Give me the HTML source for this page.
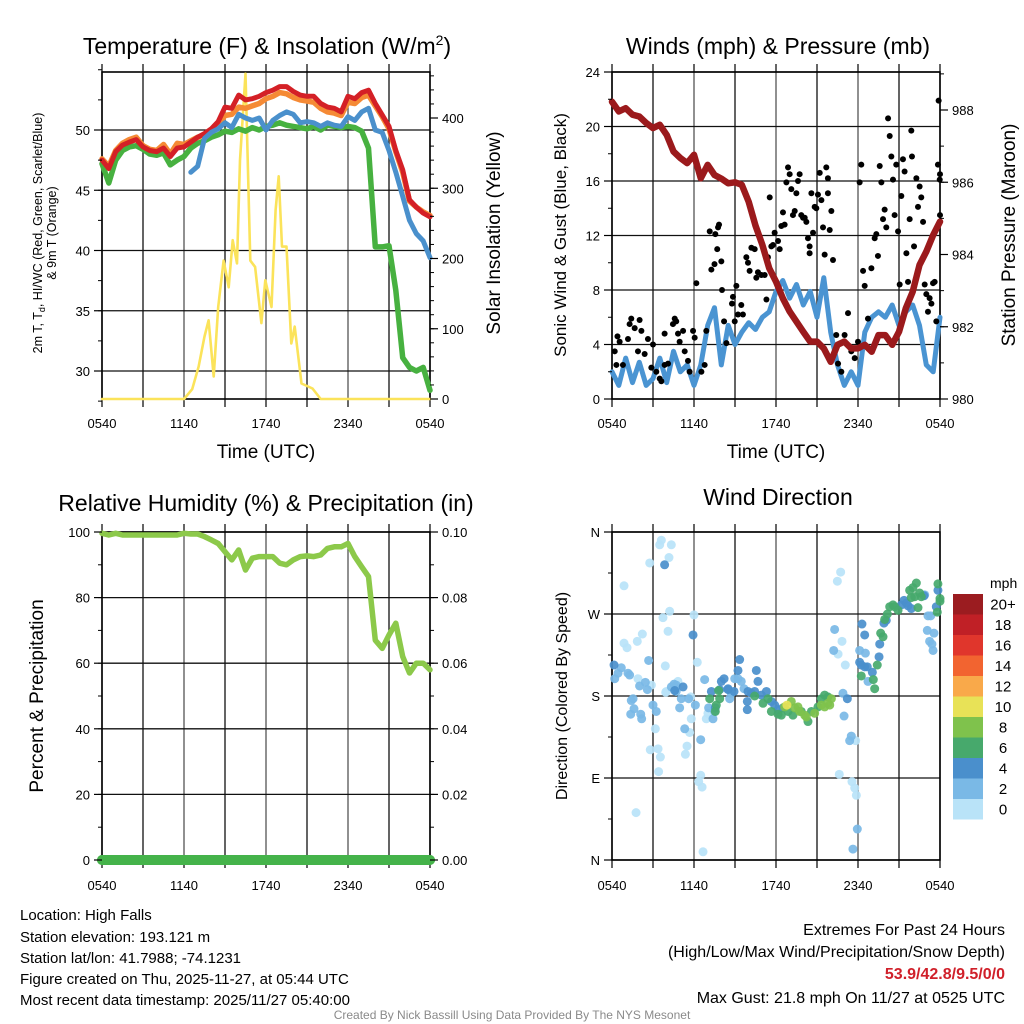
<!DOCTYPE html>
<html><head><meta charset="utf-8">
<style>
html,body{margin:0;padding:0;background:#fff;}
svg{display:block;font-family:"Liberation Sans",Arial,sans-serif;}
</style></head>
<body>
<svg id="chart" width="1024" height="1024" viewBox="0 0 1024 1024" xmlns="http://www.w3.org/2000/svg">
<rect width="1024" height="1024" fill="#fff"/>
<g id="layer"></g>
<text x="267" y="54" font-size="23" text-anchor="middle">Temperature (F) &amp; Insolation (W/m<tspan dy="-9" font-size="14">2</tspan><tspan dy="9">)</tspan></text>
<text x="778" y="54" font-size="23" text-anchor="middle">Winds (mph) &amp; Pressure (mb)</text>
<text x="266" y="511" font-size="23" text-anchor="middle">Relative Humidity (%) &amp; Precipitation (in)</text>
<text x="778" y="505" font-size="23" text-anchor="middle">Wind Direction</text>
<text x="266" y="458" font-size="19" text-anchor="middle">Time (UTC)</text>
<text x="776" y="458" font-size="19" text-anchor="middle">Time (UTC)</text>
<text transform="translate(42,233) rotate(-90)" font-size="12.5" text-anchor="middle">2m T, T<tspan dy="3" font-size="9">d</tspan><tspan dy="-3">, HI/WC (Red, Green, Scarlet/Blue)</tspan></text>
<text transform="translate(56,233) rotate(-90)" font-size="12.5" text-anchor="middle">&amp; 9m T (Orange)</text>
<text transform="translate(500,233) rotate(-90)" font-size="19" text-anchor="middle">Solar Insolation (Yellow)</text>
<text transform="translate(566,235) rotate(-90)" font-size="17" text-anchor="middle">Sonic Wind &amp; Gust (Blue, Black)</text>
<text transform="translate(1015,235) rotate(-90)" font-size="19" text-anchor="middle">Station Pressure (Maroon)</text>
<text transform="translate(43,696) rotate(-90)" font-size="19" text-anchor="middle">Percent &amp; Precipitation</text>
<text transform="translate(567,696) rotate(-90)" font-size="16" text-anchor="middle">Direction (Colored By Speed)</text>
<text x="990" y="588" font-size="14">mph</text>
<g font-size="15">
<text x="20" y="920">Location: High Falls</text>
<text x="20" y="942">Station elevation: 193.121 m</text>
<text x="20" y="963">Station lat/lon: 41.7988; -74.1231</text>
<text x="20" y="984">Figure created on Thu, 2025-11-27, at 05:44 UTC</text>
<text x="20" y="1005">Most recent data timestamp: 2025/11/27 05:40:00</text>
</g>
<g font-size="16" text-anchor="end">
<text x="1005" y="935">Extremes For Past 24 Hours</text>
<text x="1005" y="957">(High/Low/Max Wind/Precipitation/Snow Depth)</text>
<text x="1005" y="979" fill="#d0202a" font-weight="bold">53.9/42.8/9.5/0/0</text>
<text x="1005" y="1003">Max Gust: 21.8 mph On 11/27 at 0525 UTC</text>
</g>
<text x="512" y="1019" font-size="12" fill="#8a8a8a" text-anchor="middle">Created By Nick Bassill Using Data Provided By The NYS Mesonet</text>
</svg>
<script>
// ---------- data (hours since 0540 UTC) ----------
var halfHours = [0,0.5,1,1.5,2,2.5,3,3.5,4,4.5,5,5.5,6,6.5,7,7.5,8,8.5,9,9.5,10,10.5,11,11.5,12,12.5,13,13.5,14,14.5,15,15.5,16,16.5,17,17.5,18,18.5,19,19.5,20,20.5,21,21.5,22,22.5,23,23.5,24];
var xTickLabels = ["0540","1140","1740","2340","0540"];
var tempRed = [47.5,46.8,48.2,48.75,49.0,49.2,48.6,48.3,48.2,48.5,47.8,48.5,48.6,49.0,49.4,49.7,50.1,50.7,51.9,51.8,52.9,52.5,52.6,52.8,53.1,53.3,53.6,53.6,53.2,52.9,52.8,52.8,52.2,51.9,51.8,51.5,52.8,52.6,53.1,53.3,52.2,51.25,50.3,48.3,46.7,44.2,43.6,43.1,42.8];
var tempOrange = [47.6,47.0,48.3,48.9,49.2,49.4,48.7,48.4,48.3,48.8,48.0,48.9,48.8,49.1,49.4,49.6,49.9,50.4,51.2,51.3,51.9,51.8,52.0,52.2,52.6,52.8,53.1,53.0,52.7,52.5,52.4,52.3,51.8,51.5,51.4,51.2,52.3,52.2,52.7,52.9,52.0,51.1,50.1,48.2,46.5,44.1,43.6,43.2,42.9];
var tempGreen = [47.2,45.6,47.5,48.3,48.6,48.7,48.4,48.0,47.9,48.1,47.1,47.5,47.8,48.5,48.9,49.1,49.4,49.6,49.9,49.8,50.1,49.9,50.2,50.0,50.3,50.4,50.6,50.4,50.3,50.2,50.1,50.3,50.0,50.4,50.3,50.2,50.3,50.2,49.9,48.5,40.3,40.3,40.4,36.7,31.1,30.3,30.0,30.3,28.4];
var tempBlue = [null,null,null,null,null,null,null,null,null,null,null,null,null,46.5,47.0,49.3,49.8,50.1,50.6,50.2,51.3,51.0,50.8,51.0,50.0,50.8,51.2,51.5,51.3,50.6,50.7,50.6,50.3,50.6,50.4,50.3,51.1,50.8,51.5,51.8,50.0,49.8,48.3,46.5,44.5,42.5,41.4,40.8,39.4];
var solarT = [0,6.0,6.6,7.07,7.5,7.8,8.17,8.5,8.9,9.27,9.56,9.88,10.1,10.5,10.85,11.2,11.66,11.95,12.4,12.7,12.93,13.17,13.5,13.85,14.1,14.6,15.4,16.0,24];
var solarV = [0,0,14,46,89,112,32,131,197,159,226,193,340,463,197,188,108,169,131,269,317,217,217,79,103,22,15,0,0];
var tempTicks = [30,35,40,45,50];
var solarTicks = [0,100,200,300,400];

var pressure = [988.23,987.96,988.05,987.87,987.82,987.64,987.5,987.59,987.31,986.85,986.67,986.53,986.76,986.11,986.48,986.2,986.1,985.97,986.0,985.93,985.46,984.8,984.27,983.62,983.25,982.79,982.42,982.14,981.86,981.59,981.59,981.4,981.03,981.5,981.59,981.4,981.4,981.5,981.31,981.77,981.77,981.5,981.86,982.51,982.97,983.71,984.08,984.54,984.91];
var sonicWind = [2.0,1.0,3.0,1.2,2.7,1.0,1.5,3.0,1.2,3.5,2.0,2.5,1.0,2.5,5.4,6.7,2.5,5.4,4.0,4.9,5.6,5.1,6.0,6.4,7.9,8.7,7.4,8.4,6.9,7.9,6.0,8.9,4.9,2.5,1.0,2.0,1.0,4.9,6.0,6.4,6.0,6.9,5.4,6.4,6.9,5.4,2.5,2.0,6.0];
var gustT = [0.2,0.4,0.56,0.32,0.8,1.17,1.29,1.41,1.66,2.02,2.15,1.9,2.39,2.63,3.0,2.88,3.24,3.49,3.61,3.85,3.85,4.1,4.46,4.59,4.7,4.83,4.95,5.2,5.32,5.56,5.68,5.93,6.05,6.17,6.54,6.78,6.9,7.15,7.27,7.5,7.56,7.76,7.83,7.7,8.0,8.05,8.2,8.37,8.78,8.85,8.98,9.1,9.22,9.46,9.58,9.83,9.95,10.07,10.2,10.44,10.56,10.68,10.93,11.17,11.3,11.54,11.41,11.66,11.78,11.9,12.15,12.27,12.39,12.51,12.63,12.76,12.88,13.0,13.12,13.24,13.37,13.49,13.61,13.73,13.85,13.98,14.1,14.22,14.34,14.46,14.46,14.59,14.71,14.83,14.95,15.07,15.2,15.32,15.44,15.56,15.68,15.8,15.8,15.93,16.05,16.17,16.41,16.54,16.78,17.02,17.27,17.51,17.76,18.0,18.12,18.24,18.37,18.49,18.73,18.98,19.22,19.34,19.46,19.59,19.71,19.83,19.95,20.07,20.2,20.32,20.44,20.56,20.68,20.8,20.93,21.05,21.17,21.29,21.41,21.54,21.66,21.78,21.9,21.95,22.1,22.27,22.39,22.51,22.63,22.76,22.88,23.0,23.12,23.24,23.37,23.49,23.61,23.73,23.85,23.9,23.98,24.0,24.0];
var gustV = [3.5,4.6,4.2,2.5,2.5,4.4,5.5,5.9,5.2,5.8,5.0,3.5,3.3,4.4,4.0,2.3,2.0,1.5,1.3,2.5,4.8,2.6,5.5,5.9,5.7,4.8,4.2,5.0,3.5,2.8,2.0,5.0,4.5,8.5,2.0,2.5,5.0,12.3,9.5,9.9,12.1,12.6,12.8,11.0,10.1,8.0,5.7,4.1,7.0,7.5,5.7,8.3,6.2,6.9,6.2,10.4,10.0,9.4,11.1,11.0,8.9,9.3,9.1,9.1,7.3,14.8,10.4,11.2,11.3,12.2,11.6,11.0,12.7,13.7,12.8,15.9,17.0,16.5,15.4,13.5,13.8,15.1,16.0,16.5,13.5,13.3,13.3,13.0,11.8,11.2,10.7,15.1,12.2,14.1,14.0,15.0,16.6,14.6,12.6,10.6,17.0,16.2,15.1,12.4,13.8,10.2,4.7,2.6,2.0,4.7,6.3,3.5,3.0,4.2,15.9,17.2,9.4,8.3,5.9,9.6,11.8,12.1,10.5,17.1,15.9,13.2,13.9,12.6,20.6,19.3,17.8,16.1,13.5,17.2,12.3,8.4,14.9,17.6,16.7,10.7,8.6,13.2,19.7,17.8,11.2,16.2,14.1,15.6,14.8,13.0,8.4,7.7,6.4,7.4,7.0,8.5,8.6,5.7,17.2,21.9,16.1,13.5,16.5];
var windTicks = [0,4,8,12,16,20,24];
var pressureTicks = [980,982,984,986,988];

var humidity = [99.6,99.1,99.6,99.1,99.1,99.1,99.1,99.1,99.1,99.1,99.1,99.1,99.6,99.4,99.4,98.6,97.6,96.5,94.0,91.5,94.5,88.4,92.0,92.5,92.5,92.5,90.5,90.0,91.5,92.5,92.7,92.5,93.0,95.0,95.5,95.5,96.5,92.5,89.4,86.4,67.0,64.5,68.6,72.2,62.0,57.0,60.0,60.0,58.0];
var precip = [0,0,0,0,0,0,0,0,0,0,0,0,0,0,0,0,0,0,0,0,0,0,0,0,0,0,0,0,0,0,0,0,0,0,0,0,0,0,0,0,0,0,0,0,0,0,0,0,0];
var humidityTicks = [0,20,40,60,80,100];
var precipTickLabels = ["0.00","0.02","0.04","0.06","0.08","0.10"];
var precipTicks = [0,0.02,0.04,0.06,0.08,0.10];

var dirT = [3.61,3.49,4.34,4.17,2.76,0.88,3.73,4.22,6.0,4.1,2.22,0.88,1.1,1.85,3.9,1.9,2.88,3.98,4.83,6.24,5.8,6.9,7.02,5.68,5.49,5.37,2.8,3.37,3.54,3.41,3.17,6.49,6.34,6.59,1.76,6.66,16.73,16.49,16.83,16.54,17.07,16.63,17.56,17.76,17.88,17.83,5.76,3.93,
0.2,0.44,0.68,1.17,1.29,2.02,2.44,2.59,1.54,1.41,1.61,1.37,2.1,2.17,3.0,3.24,4.95,5.07,5.32,5.61,6.1,6.49,6.78,7.07,7.39,7.51,9.46,9.22,8.98,9.66,8.61,8.73,16.29,16.22,16.9,16.98,17.51,17.39,17.63,17.95,18.12,18.54,18.73,23.07,23.56,23.24,23.41,23.49,23.12,23.32,22.88,4.7,4.34,4.54,2.68,4.7,
0.15,3.85,5.93,4.59,5.2,7.27,8.0,8.2,7.88,8.49,8.93,9.22,9.34,9.95,10.2,10.44,10.56,10.68,9.9,9.9,10.93,11.3,11.66,11.9,12.15,12.51,7.56,17.22,18.29,18.49,18.12,18.24,18.49,18.68,19.05,19.54,19.59,19.9,20.07,21.17,21.37,21.54,21.66,21.9,22.83,23.85,23.73,8.49,
7.15,7.63,7.56,7.88,7.8,10.44,11.05,11.41,11.66,12.15,12.39,12.88,13.24,13.85,14.34,14.59,15.07,15.32,15.56,15.8,18.24,19.12,19.22,19.41,19.66,19.83,19.95,20.15,20.32,20.56,20.68,20.93,21.78,22.02,22.27,22.51,22.63,22.39,23.85,24.0,24.0,23.8,21.9,22.15,
12.63,13.12,13.37,13.61,13.73,14.1,14.22,14.83,15.32,15.56,15.8,16.05,15.93,
12.8];
var dirV = [351,346,346,332,326,301,266,273,269,251,248,238,233,240,213,199,192,185,196,217,155,155,161,140,125,116,121,122,113,97,144,93,86,80,52,9,316,306,240,226,214,94,86,79,71,131,179,184,
199,205,211,205,203,191,195,187,177,175,166,160,160,155,170,163,167,177,144,177,170,132,198,167,155,163,196,199,199,188,177,183,253,230,183,158,136,131,12,34,230,227,196,252,249,240,237,230,268,268,291,192,190,193,219,185,
214,324,247,186,190,185,196,199,187,187,185,208,220,185,183,185,208,196,174,165,181,185,174,170,165,167,167,177,259,247,217,214,212,212,206,223,237,260,263,280,285,282,279,276,290,296,278,188,
177,170,163,177,186,180,172,177,163,160,159,163,159,163,152,163,168,177,181,179,202,198,188,214,249,245,264,270,278,280,278,274,296,299,304,293,289,277,303,287,284,272,288,289,
168,174,167,168,163,159,157,161,170,168,172,177,170,
170];
var dirS = [1,1,1,1,1,1,1,1,1,1,1,1,1,1,1,1,1,1,1,1,1,1,1,1,1,1,1,1,1,1,1,1,1,1,1,1,1,1,1,1,1,1,1,1,1,1,1,1,
3,3,3,3,3,3,3,3,3,3,3,3,3,3,3,3,3,3,3,3,3,3,3,3,3,3,3,3,3,3,3,3,3,3,3,3,3,3,3,3,3,3,3,3,3,3,3,3,3,3,3,3,3,3,3,3,
5,5,5,5,5,5,5,5,5,5,5,5,5,5,5,5,5,5,5,5,5,5,5,5,5,5,5,5,5,5,5,5,5,5,5,5,5,5,5,5,5,5,5,5,5,5,5,5,
7,7,7,7,7,7,7,7,7,7,7,7,7,7,7,7,7,7,7,7,7,7,7,7,7,7,7,7,7,7,7,7,7,7,7,7,7,7,7,7,7,7,7,7,
9,9,9,9,9,9,9,9,9,9,9,9,9,
11];
var dirTicks = [0,90,180,270,360];
var dirTickLabels = ["N","E","S","W","N"];
var speedBins = [0,2,4,6,8,10,12,14,16,18,20];
var speedLabels = ["0","2","4","6","8","10","12","14","16","18","20+"];
var speedColors = ["#b9e3f8","#7ab9e6","#4a8fcc","#47a96c","#7fc24c","#e8e257","#f9a94a","#f26430","#e0362c","#c02026","#9b1c20"];

// ---------- helpers ----------
var NS = "http://www.w3.org/2000/svg";
var layer = document.getElementById("layer");
function mk(tag, attrs, parent){
  var e = document.createElementNS(NS, tag);
  for (var k in attrs) e.setAttribute(k, attrs[k]);
  (parent || layer).appendChild(e);
  return e;
}
function linScale(d0,d1,r0,r1){ return function(v){ return r0 + (v-d0)/(d1-d0)*(r1-r0); }; }
function pathFrom(xs, ys, sx, sy){
  var d = "", pen = false;
  for (var i=0;i<xs.length;i++){
    if (ys[i]===null || ys[i]===undefined){ pen=false; continue; }
    d += (pen?"L":"M") + sx(xs[i]).toFixed(1) + "," + sy(ys[i]).toFixed(1);
    pen = true;
  }
  return d;
}
function drawLine(name, xs, ys, sx, sy, color, w){
  var p = mk("path", {d: pathFrom(xs,ys,sx,sy), fill:"none", stroke:color, "stroke-width":w, "stroke-linejoin":"round", "stroke-linecap":"round"});
  
  
  return p;
}
function panelFrame(name, x0, x1, y0, y1){
  var g = mk("g", {});
  
  
  var sx = linScale(0,24,x0,x1);
  for (var h=0; h<=24; h+=3){
    var X = sx(h);
    var gl = mk("line", {x1:X, y1:y0, x2:X, y2:y1, stroke:(h%6===0?"#555":"#111"), "stroke-width":1.3}, g);
    
    
    mk("line", {x1:X, y1:y0-8, x2:X, y2:y0, stroke:"#000", "stroke-width":1.2}, g);
    mk("line", {x1:X, y1:y1, x2:X, y2:y1+8, stroke:"#000", "stroke-width":1.2}, g);
  }
  return g;
}
function xLabels(x0,x1,y){
  var sx = linScale(0,24,x0,x1);
  for (var i=0;i<xTickLabels.length;i++){
    var t = mk("text", {x:sx(i*6), y:y, "font-size":13, "text-anchor":"middle"});
    t.textContent = xTickLabels[i];
    
    
  }
}
function hGrid(g, ticks, sy, x0, x1, color){
  for (var i=0;i<ticks.length;i++){
    var Y = sy(ticks[i]);
    var l = mk("line", {x1:x0, y1:Y, x2:x1, y2:Y, stroke:color||"#111", "stroke-width":1.3}, g);
    
    
  }
}
function yAxis(ticks, labels, sy, X, side, minorStep, dmin, dmax){
  var dir = side==="left" ? -1 : 1;
  for (var v=dmin; v<=dmax+1e-9; v+=minorStep){
    var Y = sy(v);
    mk("line", {x1:X, y1:Y, x2:X+dir*4, y2:Y, stroke:"#000", "stroke-width":1});
  }
  for (var i=0;i<ticks.length;i++){
    var Y2 = sy(ticks[i]);
    mk("line", {x1:X, y1:Y2, x2:X+dir*8, y2:Y2, stroke:"#000", "stroke-width":1.2});
    var t = mk("text", {x:X+dir*12, y:Y2+5, "font-size":13, "text-anchor": side==="left"?"end":"start"});
    t.textContent = labels ? labels[i] : String(ticks[i]);
    
    
  }
}
function border(x0,x1,y0,y1){
  mk("rect", {x:x0, y:y0, width:x1-x0, height:y1-y0, fill:"none", stroke:"#000", "stroke-width":1.6});
}

// ---------- Panel 1: temperature ----------
(function(){
  var x0=102,x1=430,y0=72,y1=399;
  var sx = linScale(0,24,x0,x1);
  var sT = linScale(50,30,130,371);
  var sI = linScale(0,400,399,118);
  var g = panelFrame("temperature-panel", x0,x1,y0,y1);
  hGrid(g, tempTicks, sT, x0, x1);
  border(x0,x1,y0,y1);
  drawLine("solar-insolation-line", solarT, solarV, sx, sI, "#fbe35a", 2.6);
  drawLine("dewpoint-line-green", halfHours, tempGreen, sx, sT, "#47b140", 5.5);
  drawLine("temperature-9m-line-orange", halfHours, tempOrange, sx, sT, "#f58a35", 5.5);
  drawLine("temperature-2m-line-red", halfHours, tempRed, sx, sT, "#d42026", 5);
  drawLine("wind-chill-line-blue", halfHours, tempBlue, sx, sT, "#4a90cc", 5);
  yAxis(tempTicks, null, sT, x0, "left", 2.5, 27.5, 55);
  yAxis(solarTicks, null, sI, x1, "right", 20, 0, 460);
  xLabels(x0,x1,428);
})();

// ---------- Panel 2: winds & pressure ----------
(function(){
  var x0=612,x1=940,y0=72,y1=399;
  var sx = linScale(0,24,x0,x1);
  var sW = linScale(0,24,399,72);
  var sP = linScale(980,988,399,110);
  var g = panelFrame("winds-panel", x0,x1,y0,y1);
  hGrid(g, windTicks, sW, x0, x1);
  border(x0,x1,y0,y1);
  drawLine("sonic-wind-line", halfHours, sonicWind, sx, sW, "#4a94d2", 5);
  for (var i=0;i<gustT.length;i++){
    var c = mk("circle", {cx:sx(gustT[i]), cy:sW(gustV[i]), r:3, fill:"#000"});
    
    
  }
  drawLine("station-pressure-line", halfHours, pressure, sx, sP, "#9b1a1c", 6.5);
  yAxis(windTicks, null, sW, x0, "left", 2, 0, 24);
  yAxis(pressureTicks, null, sP, x1, "right", 1, 980, 989);
  xLabels(x0,x1,428);
})();

// ---------- Panel 3: humidity & precipitation ----------
(function(){
  var x0=102,x1=430,y0=532,y1=860;
  var sx = linScale(0,24,x0,x1);
  var sH = linScale(0,100,860,532);
  var sR = linScale(0,0.10,860,532);
  var g = panelFrame("humidity-panel", x0,x1,y0,y1);
  hGrid(g, humidityTicks, sH, x0, x1);
  border(x0,x1,y0,y1);
  drawLine("relative-humidity-line", halfHours, humidity, sx, sH, "#8cc94a", 5.5);
  drawLine("precipitation-line", halfHours, precip, sx, sR, "#45b34a", 10);
  for (var i=0;i<halfHours.length;i++){
    var c = mk("circle", {cx:sx(halfHours[i]), cy:sR(precip[i]), r:5, fill:"#45b34a"});
    
    
  }
  yAxis(humidityTicks, null, sH, x0, "left", 10, 0, 100);
  yAxis(precipTicks, precipTickLabels, sR, x1, "right", 0.01, 0, 0.10);
  xLabels(x0,x1,890);
})();

// ---------- Panel 4: wind direction ----------
(function(){
  var x0=612,x1=940,y0=532,y1=860;
  var sx = linScale(0,24,x0,x1);
  var sD = linScale(0,360,860,532);
  var g = panelFrame("wind-direction-panel", x0,x1,y0,y1);
  hGrid(g, dirTicks, sD, x0, x1);
  border(x0,x1,y0,y1);
  function colorFor(s){
    var idx = 0;
    for (var k=0;k<speedBins.length;k++){ if (s>=speedBins[k]) idx=k; }
    return speedColors[idx];
  }
  for (var i=0;i<dirT.length;i++){
    var c = mk("circle", {cx:sx(dirT[i]), cy:sD(dirV[i]), r:4.5, fill:colorFor(dirS[i]), "fill-opacity":0.92});
    
    
  }
  yAxis(dirTicks, dirTickLabels, sD, x0, "left", 45, 0, 360);
  xLabels(x0,x1,890);
  var top = 594, h = 20.5;
  for (var j=0;j<speedColors.length;j++){
    var idx = speedColors.length-1-j;
    var r = mk("rect", {x:953, y:top+j*h, width:30, height:h, fill:speedColors[idx]});
    
    
    var t = mk("text", {x:1003, y:top+j*h+h/2+5, "font-size":15, "text-anchor":"middle"});
    t.textContent = speedLabels[idx];
    
    
  }
})();
</script>
</body></html>
